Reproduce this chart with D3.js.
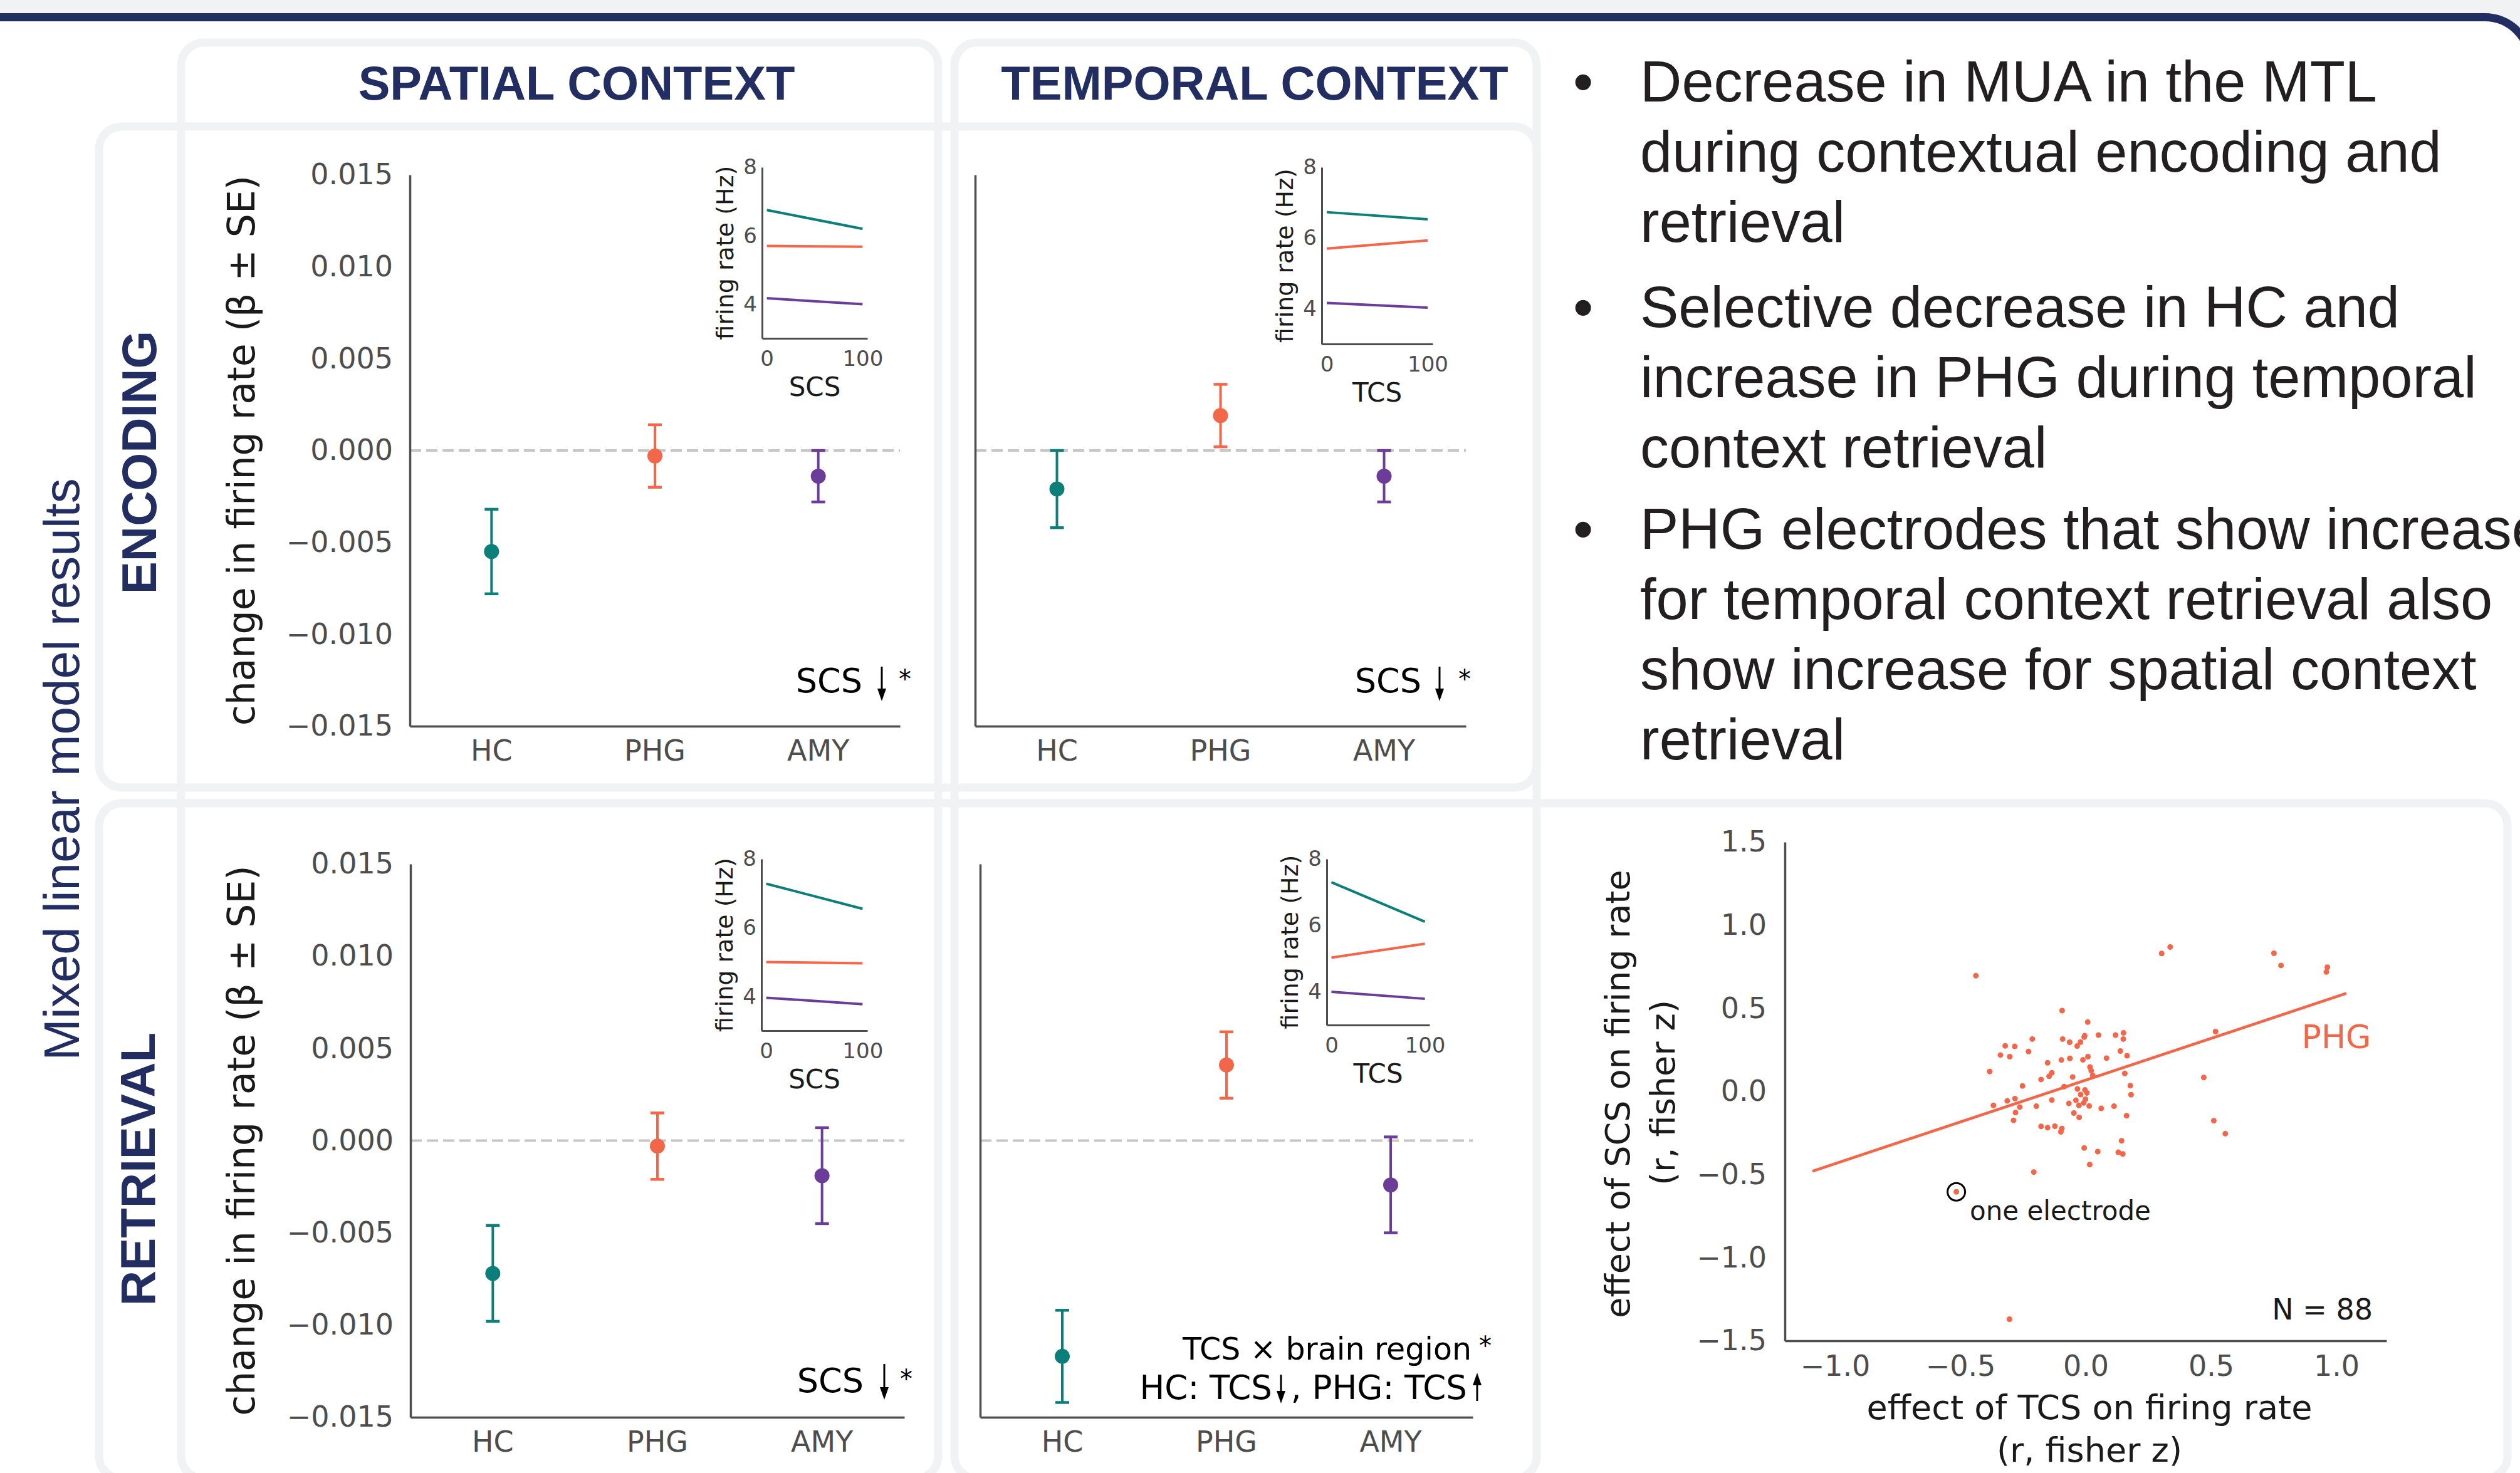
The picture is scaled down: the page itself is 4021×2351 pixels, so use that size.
<!DOCTYPE html>
<html>
<head>
<meta charset="utf-8">
<script src="https://cdn.jsdelivr.net/npm/d3@7"></script>
<style>
  body { margin: 0; background: #fff; }
  svg { display: block; }
</style>
</head>
<body>
<svg id="chart"></svg>
<script>
// ---- data ----
const regions = ['HC', 'PHG', 'AMY'];
const betaTicks = [-0.015, -0.010, -0.005, 0.000, 0.005, 0.010, 0.015];

const encSpatialBeta  = [-0.0055, -0.0003, -0.0014];
const encSpatialSE    = [0.0023, 0.0017, 0.0014];
const encTemporalBeta = [-0.0021, 0.0019, -0.0014];
const encTemporalSE   = [0.0021, 0.0017, 0.0014];
const retSpatialBeta  = [-0.0072, -0.0003, -0.0019];
const retSpatialSE    = [0.0026, 0.0018, 0.0026];
const retTemporalBeta = [-0.0117, 0.0041, -0.0024];
const retTemporalSE   = [0.0025, 0.0018, 0.0026];

// inset: firing rate (Hz) at context similarity 0 and 100, per region
const contextTicks = [0, 100];
const rateTicks = [4, 6, 8];
const encSpatialRate  = [[6.75, 6.20], [5.70, 5.68], [4.17, 4.00]];
const encTemporalRate = [[6.73, 6.53], [5.70, 5.93], [4.16, 4.03]];
const retSpatialRate  = [[7.28, 6.55], [5.00, 4.96], [3.96, 3.77]];
const retTemporalRate = [[7.30, 6.11], [5.03, 5.45], [4.00, 3.79]];

// scatter: PHG electrodes, effect of TCS (x) vs effect of SCS (y)
const tcsEffect = [-0.438, -0.094, 0.008, 0.051, -0.213, -0.092, -0.064, -0.004, -0.006, -0.021,
  -0.034, -0.321, -0.283, -0.340, -0.303, -0.228, -0.152, -0.097, -0.063, -0.011,
  0.009, -0.383, -0.135, -0.146, -0.178, -0.052, 0.017, 0.022, 0.028, -0.252,
  -0.086, -0.033, -0.003, 0.005, -0.020, -0.368, -0.313, -0.282, -0.263, -0.280,
  -0.288, -0.197, -0.135, -0.067, -0.039, -0.027, -0.008, -0.001, 0.014, -0.047,
  -0.026, -0.178, -0.152, -0.123, -0.095, -0.099, -0.006, 0.048, 0.016, -0.207,
  -0.516, 0.303, 0.337, 0.751, 0.779, 0.964, 0.960, 0.119, 0.151, 0.150,
  0.138, 0.165, 0.083, 0.156, 0.518, 0.471, 0.178, 0.181, 0.062, 0.113,
  0.163, 0.143, 0.130, 0.148, 0.511, 0.557, -0.304];
const scsEffect = [0.696, 0.486, 0.417, 0.339, 0.315, 0.315, 0.296, 0.335, 0.327, 0.297,
  0.273, 0.274, 0.271, 0.219, 0.209, 0.240, 0.172, 0.189, 0.199, 0.190,
  0.209, 0.120, 0.112, 0.091, 0.072, 0.087, 0.147, 0.125, 0.097, 0.033,
  0.029, 0.015, 0.009, -0.009, -0.019, -0.084, -0.057, -0.043, -0.094, -0.127,
  -0.174, -0.089, -0.052, -0.072, -0.053, -0.084, -0.069, -0.047, -0.088, -0.130,
  -0.156, -0.210, -0.218, -0.209, -0.223, -0.243, -0.340, -0.362, -0.440, -0.485,
  -0.604, 0.830, 0.869, 0.831, 0.758, 0.747, 0.719, 0.339, 0.352, 0.315,
  0.243, 0.215, 0.200, 0.108, 0.360, 0.084, 0.035, -0.020, -0.102, -0.089,
  -0.146, -0.297, -0.366, -0.376, -0.176, -0.254, -1.370];
const exampleElectrode = 60;   // index of the circled point
const fitX = [-1.09, 1.04];
const fitY = [-0.48, 0.59];
const scatterXTicks = [-1.0, -0.5, 0.0, 0.5, 1.0];
const scatterYTicks = [-1.5, -1.0, -0.5, 0.0, 0.5, 1.0, 1.5];

const bullets = [
  ['Decrease in MUA in the MTL', 'during contextual encoding and', 'retrieval'],
  ['Selective decrease in HC and', 'increase in PHG during temporal', 'context retrieval'],
  ['PHG electrodes that show increase', 'for temporal context retrieval also', 'show increase for spatial context', 'retrieval']
];

// ---- styling ----
const navy = '#222d62';
const frameGray = '#f1f2f4';
const axisGray = '#4d4d4d';
const regionColors = ['#0c7f7a', '#f2664a', '#6b3d99'];
const mplFont = "'DejaVu Sans', sans-serif";
const posterFont = "'Liberation Sans', Arial, sans-serif";

const svg = d3.select('#chart').attr('width', 4021).attr('height', 2351);

// poster background + navy framed sheet
svg.append('rect').attr('width', 4021).attr('height', 2351).attr('fill', frameGray);
svg.append('rect')
   .attr('x', -200).attr('y', 27.5).attr('width', 4237).attr('height', 3000)
   .attr('rx', 72).attr('fill', '#fff').attr('stroke', navy).attr('stroke-width', 13);

// light panel frames
let frames = [
  {x: 289, y: 68, w: 1208, h: 2292},
  {x: 1523, y: 68, w: 929, h: 2292},
  {x: 158, y: 202, w: 2294, h: 1055},
  {x: 158, y: 1282, w: 3843, h: 1078}
];
svg.append('g').selectAll('rect').data(frames).enter().append('rect')
   .attr('x', d => d.x).attr('y', d => d.y).attr('width', d => d.w).attr('height', d => d.h)
   .attr('rx', 36).attr('fill', 'none').attr('stroke', frameGray).attr('stroke-width', 13);

// poster headings
svg.append('text').attr('x', 920).attr('y', 159).attr('text-anchor', 'middle')
   .attr('font-family', posterFont).attr('font-weight', 'bold').attr('font-size', 76)
   .attr('fill', navy).text('SPATIAL CONTEXT');
svg.append('text').attr('x', 2002).attr('y', 159).attr('text-anchor', 'middle')
   .attr('font-family', posterFont).attr('font-weight', 'bold').attr('font-size', 76)
   .attr('fill', navy).text('TEMPORAL CONTEXT');
svg.append('text').attr('transform', 'translate(126,1228) rotate(-90)').attr('text-anchor', 'middle')
   .attr('font-family', posterFont).attr('font-size', 80).attr('fill', navy)
   .text('Mixed linear model results');
svg.append('text').attr('transform', 'translate(249,738) rotate(-90)').attr('text-anchor', 'middle')
   .attr('font-family', posterFont).attr('font-weight', 'bold').attr('font-size', 78)
   .attr('fill', navy).text('ENCODING');
svg.append('text').attr('transform', 'translate(247,1866) rotate(-90)').attr('text-anchor', 'middle')
   .attr('font-family', posterFont).attr('font-weight', 'bold').attr('font-size', 78)
   .attr('fill', navy).text('RETRIEVAL');

// bullet points
let bulletTop = [162, 522, 876];
let bulletG = svg.append('g').attr('font-family', posterFont).attr('font-size', 92).attr('fill', '#231f20');
bullets.forEach((lines, i) => {
  bulletG.append('text').attr('x', 2526).attr('y', bulletTop[i]).attr('text-anchor', 'middle').text('•');
  lines.forEach((line, j) => {
    bulletG.append('text').attr('x', 2617).attr('y', bulletTop[i] + j * 112).text(line);
  });
});

function styleAxis(g, size){
  g.select('.domain').attr('stroke', axisGray).attr('stroke-width', 3.5);
  g.selectAll('text').attr('fill', axisGray).attr('font-family', mplFont).attr('font-size', size);
}

function arrow(g, x, y1, y2){
  let dir = y2 > y1 ? 1 : -1;
  let head = 20 * dir;
  g.append('line').attr('x1', x).attr('x2', x).attr('y1', y1).attr('y2', y2 - head)
   .attr('stroke', '#000').attr('stroke-width', 3);
  g.append('path').attr('d', `M${x - 7},${y2 - head} L${x + 7},${y2 - head} L${x},${y2} Z`).attr('fill', '#000');
}

function drawInset(p){
  let g = svg.append('g');
  let x = d3.scaleLinear().domain([-5, 105]).range([p.left, p.right]);
  let y = d3.scaleLinear().domain([3, 8]).range([p.bottom, p.top]);
  g.append('g').attr('transform', `translate(${p.left},0)`)
   .call(d3.axisLeft(y).tickValues(rateTicks).tickSize(0).tickPadding(8).tickFormat(d3.format('d')))
   .call(s => styleAxis(s, 34));
  g.append('g').attr('transform', `translate(0,${p.bottom})`)
   .call(d3.axisBottom(x).tickValues(contextTicks).tickSize(0).tickPadding(20).tickFormat(d3.format('d')))
   .call(s => styleAxis(s, 34));
  g.selectAll('.domain').attr('stroke-width', 3);
  let line = d3.line().x((d, i) => x(contextTicks[i])).y(d => y(d));
  g.selectAll('.rate').data(p.rates).enter().append('path')
   .attr('d', d => line(d)).attr('fill', 'none')
   .attr('stroke', (d, i) => regionColors[i]).attr('stroke-width', 4);
  g.append('text').attr('x', (p.left + p.right) / 2).attr('y', p.bottom + 92).attr('text-anchor', 'middle')
   .attr('font-family', mplFont).attr('font-size', 42).attr('fill', '#1a1a1a').text(p.xLabel);
  g.append('text').attr('transform', `translate(${p.left - 46},${(p.top + p.bottom) / 2}) rotate(-90)`)
   .attr('text-anchor', 'middle').attr('font-family', mplFont).attr('font-size', 38)
   .attr('fill', '#1a1a1a').text('firing rate (Hz)');
}

function drawPanel(p){
  let g = svg.append('g');
  let x = d3.scaleBand().domain(regions).range([p.left, p.right]);
  let y = d3.scaleLinear().domain([-0.015, 0.015]).range([p.bottom, p.top]);

  g.append('line').attr('x1', p.left).attr('x2', p.right).attr('y1', y(0)).attr('y2', y(0))
   .attr('stroke', '#c8c8c8').attr('stroke-width', 4).attr('stroke-dasharray', '18,8');

  g.append('g').attr('transform', `translate(${p.left},0)`)
   .call(d3.axisLeft(y).tickValues(p.yLabels ? betaTicks : []).tickSize(0).tickPadding(27).tickFormat(d3.format('.3f')))
   .call(s => styleAxis(s, 46));
  g.append('g').attr('transform', `translate(0,${p.bottom})`)
   .call(d3.axisBottom(x).tickSize(0).tickPadding(22))
   .call(s => styleAxis(s, 46));

  if (p.yLabels) {
    g.append('text').attr('transform', `translate(406,${(p.top + p.bottom) / 2}) rotate(-90)`)
     .attr('text-anchor', 'middle').attr('font-family', mplFont).attr('font-size', 60)
     .attr('fill', '#1a1a1a').text('change in firing rate (β ± SE)');
  }

  let cx = d => x(d) + x.bandwidth() / 2;
  let bars = g.selectAll('.eb').data(regions).enter().append('g');
  bars.append('line').attr('x1', cx).attr('x2', cx)
      .attr('y1', (d, i) => y(p.beta[i] - p.se[i])).attr('y2', (d, i) => y(p.beta[i] + p.se[i]))
      .attr('stroke', (d, i) => regionColors[i]).attr('stroke-width', 4);
  [-1, 1].forEach(sgn => {
    bars.append('line').attr('x1', d => cx(d) - 11).attr('x2', d => cx(d) + 11)
        .attr('y1', (d, i) => y(p.beta[i] + sgn * p.se[i])).attr('y2', (d, i) => y(p.beta[i] + sgn * p.se[i]))
        .attr('stroke', (d, i) => regionColors[i]).attr('stroke-width', 4.5);
  });
  bars.append('circle').attr('cx', cx).attr('cy', (d, i) => y(p.beta[i])).attr('r', 12)
      .attr('fill', (d, i) => regionColors[i]);

  let notes = g.append('g').attr('font-family', mplFont).attr('fill', '#000');
  p.notes.forEach(n => {
    notes.append('text').attr('x', n.x).attr('y', n.y).attr('text-anchor', n.anchor || 'end')
         .attr('font-size', n.size || 50).text(n.text);
  });
  p.arrows.forEach(a => arrow(notes, a[0], a[1], a[2]));

  drawInset(p.inset);
}

let panels = [
  {left: 654, right: 1436, top: 279, bottom: 1159, yLabels: true, beta: encSpatialBeta, se: encSpatialSE,
   notes: [{x: 1376, y: 1105, text: 'SCS', size: 54}, {x: 1444, y: 1098, text: '*', anchor: 'middle', size: 40}],
   arrows: [[1407, 1064, 1119]],
   inset: {left: 1216, right: 1384, top: 267, bottom: 540, rates: encSpatialRate, xLabel: 'SCS'}},
  {left: 1556, right: 2339, top: 279, bottom: 1159, yLabels: false, beta: encTemporalBeta, se: encTemporalSE,
   notes: [{x: 2268, y: 1105, text: 'SCS', size: 54}, {x: 2337, y: 1098, text: '*', anchor: 'middle', size: 40}],
   arrows: [[2297, 1064, 1119]],
   inset: {left: 2109, right: 2286, top: 267, bottom: 549, rates: encTemporalRate, xLabel: 'TCS'}},
  {left: 655, right: 1443, top: 1379, bottom: 2262, yLabels: true, beta: retSpatialBeta, se: retSpatialSE,
   notes: [{x: 1378, y: 2222, text: 'SCS', size: 54}, {x: 1446, y: 2215, text: '*', anchor: 'middle', size: 40}],
   arrows: [[1411, 2177, 2234]],
   inset: {left: 1215, right: 1384, top: 1371, bottom: 1645, rates: retSpatialRate, xLabel: 'SCS'}},
  {left: 1564, right: 2350, top: 1379, bottom: 2262, yLabels: false, beta: retTemporalBeta, se: retTemporalSE,
   notes: [{x: 2348, y: 2170, text: 'TCS × brain region', size: 49}, {x: 2370, y: 2162, text: '*', anchor: 'middle', size: 40},
           {x: 2030, y: 2233, text: 'HC: TCS', size: 53}, {x: 2341, y: 2233, text: ', PHG: TCS', size: 53}],
   arrows: [[2044, 2194, 2240], [2357, 2236, 2191]],
   inset: {left: 2117, right: 2281, top: 1371, bottom: 1636, rates: retTemporalRate, xLabel: 'TCS'}}
];
panels.forEach(drawPanel);

// ---- scatter of PHG electrodes ----
let sc = svg.append('g');
let sx = d3.scaleLinear().domain([-1.2, 1.2]).range([2848, 3808]);
let sy = d3.scaleLinear().domain([-1.5, 1.5]).range([2140, 1344]);
sc.append('g').attr('transform', 'translate(2848,0)')
  .call(d3.axisLeft(sy).tickValues(scatterYTicks).tickSize(0).tickPadding(29).tickFormat(d3.format('.1f')))
  .call(s => styleAxis(s, 46));
sc.append('g').attr('transform', 'translate(0,2140)')
  .call(d3.axisBottom(sx).tickValues(scatterXTicks).tickSize(0).tickPadding(23).tickFormat(d3.format('.1f')))
  .call(s => styleAxis(s, 46));

sc.append('path').attr('d', d3.line().x(d => sx(d[0])).y(d => sy(d[1]))(d3.zip(fitX, fitY)))
  .attr('stroke', regionColors[1]).attr('stroke-width', 4.5).attr('fill', 'none');
sc.selectAll('.pt').data(d3.zip(tcsEffect, scsEffect)).enter().append('circle')
  .attr('cx', d => sx(d[0])).attr('cy', d => sy(d[1])).attr('r', 4.5).attr('fill', regionColors[1]);
sc.append('circle').attr('cx', sx(tcsEffect[exampleElectrode])).attr('cy', sy(scsEffect[exampleElectrode]))
  .attr('r', 14).attr('fill', 'none').attr('stroke', '#000').attr('stroke-width', 3);

sc.append('text').attr('x', 3143).attr('y', 1947).attr('font-family', mplFont).attr('font-size', 42)
  .attr('fill', '#1a1a1a').text('one electrode');
sc.append('text').attr('x', 3728).attr('y', 1673).attr('text-anchor', 'middle').attr('font-family', mplFont)
  .attr('font-size', 52).attr('fill', regionColors[1]).text('PHG');
sc.append('text').attr('x', 3786).attr('y', 2106).attr('text-anchor', 'end').attr('font-family', mplFont)
  .attr('font-size', 46).attr('fill', '#1a1a1a').text('N = 88');

sc.append('text').attr('x', 3334).attr('y', 2265).attr('text-anchor', 'middle').attr('font-family', mplFont)
  .attr('font-size', 54).attr('fill', '#1a1a1a').text('effect of TCS on firing rate');
sc.append('text').attr('x', 3334).attr('y', 2333).attr('text-anchor', 'middle').attr('font-family', mplFont)
  .attr('font-size', 54).attr('fill', '#1a1a1a').text('(r, fisher z)');
sc.append('text').attr('transform', 'translate(2600,1746) rotate(-90)').attr('text-anchor', 'middle')
  .attr('font-family', mplFont).attr('font-size', 54).attr('fill', '#1a1a1a').text('effect of SCS on firing rate');
sc.append('text').attr('transform', 'translate(2672,1744) rotate(-90)').attr('text-anchor', 'middle')
  .attr('font-family', mplFont).attr('font-size', 54).attr('fill', '#1a1a1a').text('(r, fisher z)');
</script>
</body>
</html>
